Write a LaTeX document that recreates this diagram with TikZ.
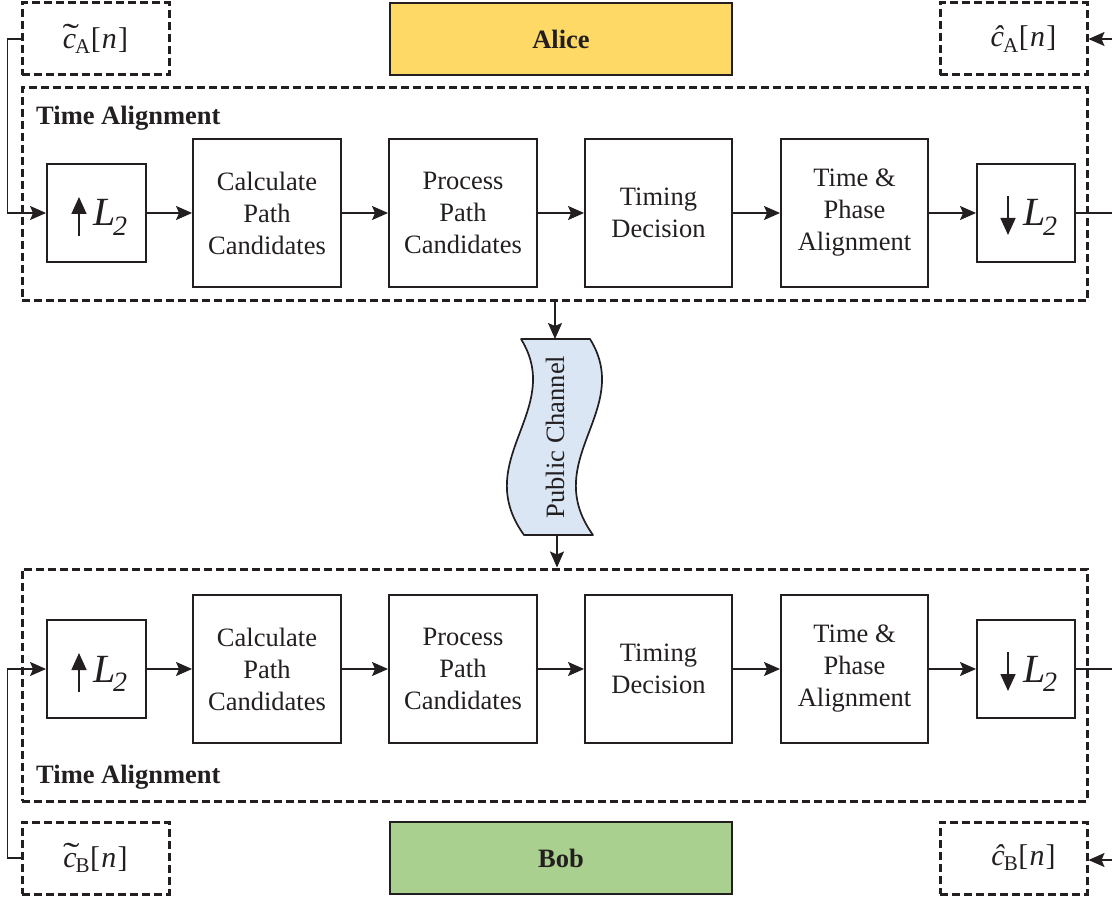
\documentclass[tikz,border=0pt]{standalone}
\usepackage{fontspec}
\setmainfont{Liberation Serif}
\usetikzlibrary{arrows.meta}
\definecolor{ink}{HTML}{231F20}
\definecolor{alicefill}{HTML}{FFD966}
\definecolor{bobfill}{HTML}{A9D08E}
\definecolor{chanfill}{HTML}{DAE6F3}

% italic c with a wide tilde above it
\newcommand{\tilc}{\leavevmode\rlap{\kern-0.01em\raisebox{0.04em}{\scalebox{1.65}[1.1]{\char"02DC}}}\textit{c}}
% signal names
\newcommand{\sig}[2]{#1\textsubscript{\kern-0.05em #2}[\kern0.04em\textit{n}\kern0.04em]}

\begin{document}
\begin{tikzpicture}[x=1pt,y=-1pt,
  tip/.tip={Stealth[length=16pt,width=14pt,inset=3pt]},
  conn/.style={draw=ink, line width=1.7pt},
  blk/.style={draw=ink, line width=1.9pt, minimum width=148pt, minimum height=148pt,
              inner sep=0pt, align=center, text=ink, font=\fontsize{26.5}{32}\selectfont},
  sbox/.style={draw=ink, line width=1.9pt, minimum width=99pt, minimum height=98pt, inner sep=0pt},
  dashbox/.style={draw=ink, line width=3pt, dash pattern=on 8pt off 4pt, inner sep=0pt},
  sigbox/.style={dashbox, minimum width=147pt, minimum height=72pt, text=ink,
                 font=\fontsize{30}{34}\selectfont},
  party/.style={draw=ink, line width=2pt, minimum width=342pt, minimum height=72pt,
                inner sep=0pt, text=ink, font=\bfseries\fontsize{26.5}{30}\selectfont},
  tlabel/.style={anchor=base west, text=ink, inner sep=0pt, font=\bfseries\fontsize{26.5}{30}\selectfont},
  lsym/.style={anchor=base west, inner sep=0pt, text=ink, font=\itshape\fontsize{40}{40}\selectfont},
  updn/.style={draw=ink, line width=1.7pt, -{Triangle[length=17pt,width=15pt]}}
]
\useasboundingbox (0,0) rectangle (1112,901);

% ---------------- Alice side ----------------
\node[sigbox] (cA) at (95.5,39) {\sig{\tilc}{A}};
\node[party, fill=alicefill] (alice) at (561,39) {Alice};
\node[sigbox] (hA) at (1013.5,39) {\hspace{20pt}\sig{\textit{ĉ}}{A}};

\node[dashbox, minimum width=1065pt, minimum height=213pt] (taA) at (554.5,194.5) {};
\node[tlabel] (ltaA) at (36,125) {Time Alignment};

\node[sbox] (upA) at (96.5,213) {};
\node[blk] (calcA) at (267,213) {Calculate\\Path\\Candidates};
\node[blk] (procA) at (463,213) {Process\\Path\\Candidates};
\node[blk, minimum width=147pt] (timA) at (658.5,213) {Timing\\Decision};
\node[blk, minimum width=147pt] (phA) at (854.5,213) {Time \&\\Phase\\Alignment};
\node[sbox, minimum width=98pt] (dnA) at (1026,213) {};

\draw[updn] ([shift={(-17.5,23)}]upA.center) -- ([shift={(-17.5,-16)}]upA.center);
\node[lsym] (lupA) at ([shift={(-3.5,13)}]upA.center) {L\textsubscript{\kern-0.08em 2}};
\draw[updn] ([shift={(-18,-17)}]dnA.center) -- ([shift={(-18,22)}]dnA.center);
\node[lsym] (ldnA) at ([shift={(-3,13)}]dnA.center) {L\textsubscript{\kern-0.08em 2}};

\draw[conn, -tip] (cA.west) -- ++(-13,0) |- (upA.west);
\draw[conn, -tip] (upA) -- (calcA);
\draw[conn, -tip] (calcA) -- (procA);
\draw[conn, -tip] (procA) -- (timA);
\draw[conn, -tip] (timA) -- (phA);
\draw[conn, -tip] (phA) -- (dnA);
\coordinate (outA) at (1112,213);
\draw[conn] (dnA.east) -- (outA);
\coordinate (srcA) at (1112,39);
\draw[conn, -tip] (srcA) -- (hA.east);

% ---------------- public channel ----------------
\coordinate (chtop) at (555,339);
\coordinate (chbot) at (557,535);
\filldraw[fill=chanfill, draw=ink, line width=1.7pt, line join=round]
  (521,339) -- (590,339) .. controls (634,410) and (539,460) .. (593,535)
  -- (524,535) .. controls (470,460) and (565,410) .. (521,339) -- cycle;
\node[rotate=90, text=ink, font=\fontsize{26.5}{30}\selectfont] (chan) at (555,437) {Public Channel};
\draw[conn, -tip] (taA.south -| chtop) -- (chtop);

% ---------------- Bob side ----------------
\node[dashbox, minimum width=1065pt, minimum height=232pt] (taB) at (554.5,685) {};
\node[tlabel] (ltaB) at (36,783) {Time Alignment};
\draw[conn, -tip] (chbot) -- (taB.north -| chbot);

\node[sbox] (upB) at (96.5,669) {};
\node[blk] (calcB) at (267,669) {Calculate\\Path\\Candidates};
\node[blk] (procB) at (463,669) {Process\\Path\\Candidates};
\node[blk, minimum width=147pt] (timB) at (658.5,669) {Timing\\Decision};
\node[blk, minimum width=147pt] (phB) at (854.5,669) {Time \&\\Phase\\Alignment};
\node[sbox, minimum width=98pt] (dnB) at (1026,669) {};

\draw[updn] ([shift={(-17.5,23)}]upB.center) -- ([shift={(-17.5,-16)}]upB.center);
\node[lsym] (lupB) at ([shift={(-3.5,13)}]upB.center) {L\textsubscript{\kern-0.08em 2}};
\draw[updn] ([shift={(-18,-17)}]dnB.center) -- ([shift={(-18,22)}]dnB.center);
\node[lsym] (ldnB) at ([shift={(-3,13)}]dnB.center) {L\textsubscript{\kern-0.08em 2}};

\node[sigbox] (cB) at (95.5,858) {\sig{\tilc}{B}};
\node[party, fill=bobfill] (bob) at (561,858) {Bob};
\node[sigbox] (hB) at (1013.5,858) {\hspace{20pt}\sig{\textit{ĉ}}{B}};

\draw[conn, -tip] (cB.west) -- ++(-13,0) |- (upB.west);
\draw[conn, -tip] (upB) -- (calcB);
\draw[conn, -tip] (calcB) -- (procB);
\draw[conn, -tip] (procB) -- (timB);
\draw[conn, -tip] (timB) -- (phB);
\draw[conn, -tip] (phB) -- (dnB);
\coordinate (outB) at (1112,669);
\draw[conn] (dnB.east) -- (outB);
\coordinate (srcB) at (1112,860);
\draw[conn, -tip] (srcB) -- (srcB -| hB.east);
\end{tikzpicture}
\end{document}
